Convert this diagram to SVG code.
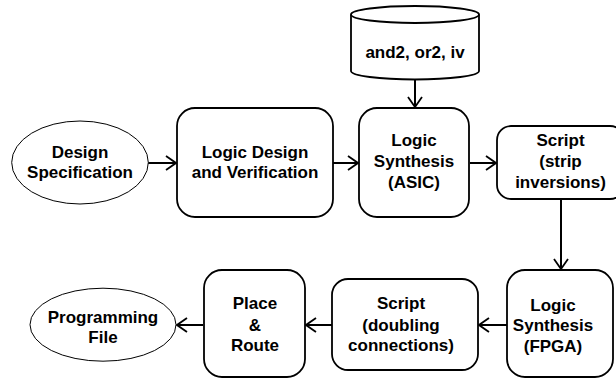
<svg xmlns="http://www.w3.org/2000/svg" width="616" height="379" viewBox="0 0 616 379">
<defs>
<marker id="arr" viewBox="0 0 12 16" refX="11" refY="8" markerWidth="12" markerHeight="16" markerUnits="userSpaceOnUse" orient="auto">
<path d="M1,1 L11,8 L1,15" fill="none" stroke="#000" stroke-width="1.8"/>
</marker>
</defs>
<style>
.box{fill:#fff;stroke:#000;stroke-width:1.8}
.ell{fill:#fff;stroke:#000;stroke-width:1}
.t{font-family:"Liberation Sans",Arial,sans-serif;font-weight:bold;font-size:17px;text-anchor:middle;fill:#000}
.c{fill:none;stroke:#000;stroke-width:2;marker-end:url(#arr)}
</style>
<rect width="616" height="379" fill="#fff"/>
<g id="connectors">
<line class="c" x1="148" y1="163" x2="176" y2="163"/>
<line class="c" x1="333" y1="163" x2="358" y2="163"/>
<line class="c" x1="470" y1="163" x2="496" y2="163"/>
<line class="c" x1="415" y1="79" x2="415" y2="107"/>
<line class="c" x1="561" y1="200" x2="561" y2="269"/>
<line class="c" x1="507" y1="325" x2="479" y2="325"/>
<line class="c" x1="332" y1="325" x2="306" y2="325"/>
<line class="c" x1="203" y1="325" x2="177" y2="325"/>
</g>
<g id="design-spec">
<ellipse class="ell" cx="80" cy="162.5" rx="68.3" ry="41.5"/>
<text class="t" x="80" y="158">Design</text>
<text class="t" x="80" y="178">Specification</text>
</g>
<g id="logic-design">
<rect class="box" x="177" y="108" width="156" height="109" rx="18"/>
<text class="t" x="255" y="158">Logic Design</text>
<text class="t" x="255" y="178">and Verification</text>
</g>
<g id="library">
<path class="box" d="M351,14.5 L351,71 A64,8.5 0 0 0 479,71 L479,14.5"/>
<ellipse class="box" cx="415" cy="14.5" rx="64" ry="8.5"/>
<text class="t" x="415" y="58">and2, or2, iv</text>
</g>
<g id="synth-asic">
<rect class="box" x="359" y="108" width="110" height="109" rx="18"/>
<text class="t" x="414" y="146">Logic</text>
<text class="t" x="414" y="167">Synthesis</text>
<text class="t" x="414" y="188">(ASIC)</text>
</g>
<g id="script-strip">
<rect class="box" x="497" y="126" width="127" height="73" rx="14"/>
<text class="t" x="560.5" y="146">Script</text>
<text class="t" x="560.5" y="167">(strip</text>
<text class="t" x="560.5" y="188">inversions)</text>
</g>
<g id="synth-fpga">
<rect class="box" x="507" y="270" width="106" height="107" rx="18"/>
<text class="t" x="553" y="311">Logic</text>
<text class="t" x="553" y="331">Synthesis</text>
<text class="t" x="553" y="352">(FPGA)</text>
</g>
<g id="script-doubling">
<rect class="box" x="332" y="279" width="146" height="91" rx="16"/>
<text class="t" x="401" y="309">Script</text>
<text class="t" x="401" y="331">(doubling</text>
<text class="t" x="401" y="351">connections)</text>
</g>
<g id="place-route">
<rect class="box" x="204" y="270" width="101" height="107" rx="18"/>
<text class="t" x="255" y="309">Place</text>
<text class="t" x="255" y="331">&amp;</text>
<text class="t" x="255" y="351">Route</text>
</g>
<g id="programming-file">
<ellipse class="ell" cx="103" cy="324.7" rx="73" ry="36.5"/>
<text class="t" x="103" y="323">Programming</text>
<text class="t" x="103" y="343">File</text>
</g>
</svg>
